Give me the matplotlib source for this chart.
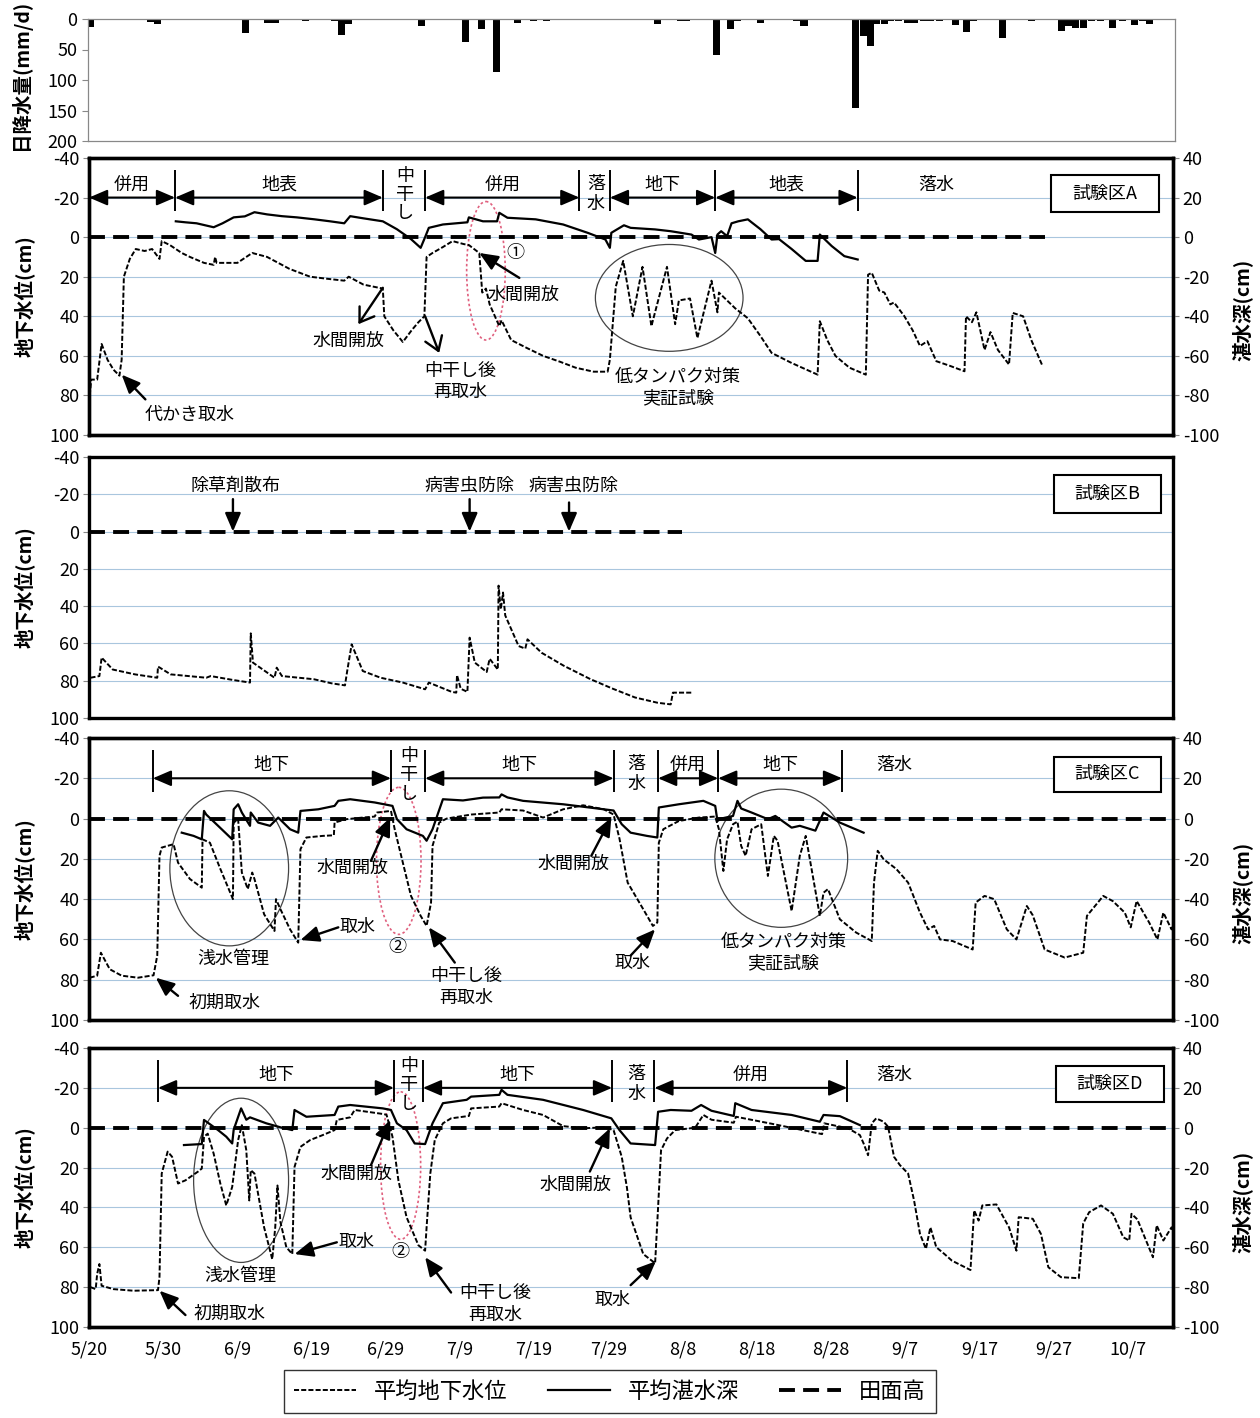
import matplotlib
matplotlib.use("Agg")
import matplotlib.pyplot as plt
from matplotlib.lines import Line2D
from matplotlib.patches import Ellipse, Rectangle

plt.rcParams["font.family"] = ["Noto Sans CJK JP", "DejaVu Sans"]
plt.rcParams["axes.unicode_minus"] = False

# ---- data (day counted from 5/20) ----
tick_days = list(range(0, 141, 10))
tick_labels = ["5/20", "5/30", "6/9", "6/19", "6/29", "7/9", "7/19", "7/29",
               "8/8", "8/18", "8/28", "9/7", "9/17", "9/27", "10/7"]

rain_day = [0.4, 3.5, 4.5, 8.4, 9.4, 14.5, 15.4, 20.2, 21.2, 24.2, 25.2, 29.3,
            33.2, 34.2, 35.1, 45, 46, 47, 49, 50, 50.9, 53, 55, 57.9, 60.1, 61.8,
            72.7, 73.8, 76.7, 79.8, 80.6, 84.7, 86.6, 87.5, 90.6, 95.5, 96.5,
            103.5, 104.5, 105.4, 106.3, 107.3, 108.2, 109.2, 110.4, 111.4, 112.6,
            113.6, 114.7, 116.9, 118.4, 119.3, 123.2, 127.2, 131.2, 132.2, 133.1,
            134.2, 135.3, 136.4, 138.1, 139.4, 141, 142.1, 143.1, 144.5, 145.6]
rain_mm = [13, 2, 2, 5, 8, 2, 2, 2, 23, 6, 6, 4,
           3, 27, 8, 12, 2, 2, 2, 2, 37, 16, 87, 7, 3, 3,
           2, 2, 8, 3, 3, 59, 17, 4, 7, 3, 12,
           146, 28, 44, 8, 8, 3, 3, 7, 7, 3,
           3, 3, 10, 22, 4, 31, 3, 20, 11, 14,
           14, 3, 3, 14, 3, 10, 4, 8, 2, 2]

# groundwater level (cm below surface), ponding depth (cm above surface)
a_gw = [(0.1, 80), (0.3, 72), (1.1, 72), (1.7, 54), (2.5, 62), (3.3, 67), (4.1, 70),
        (4.4, 62), (4.7, 20), (5.5, 11), (6.3, 6), (7.5, 7), (8.5, 6), (9.5, 11),
        (9.8, 2), (10.9, 4), (12.5, 8), (13.6, 10), (15.5, 13), (16.8, 14), (17, 10),
        (17.2, 13), (20, 13), (22, 8), (24, 10), (27, 16), (29.8, 20), (32, 21),
        (34.4, 22), (35, 20), (37, 24), (39.6, 26), (39.8, 40), (41, 47), (42.3, 53),
        (43.5, 47), (44.4, 43), (45.2, 40), (45.5, 10), (46.3, 8), (47.7, 5), (49, 2),
        (50.5, 3.5), (51.2, 4), (52.6, 8), (53, 28), (53.5, 26), (54, 34), (55.3, 45),
        (55.6, 42), (56.9, 52), (59, 56), (61.2, 60), (63.5, 63), (65.6, 66), (68, 68),
        (69.9, 68), (70.2, 62), (71, 25), (72, 12), (73.3, 40), (74.6, 15), (75.8, 45),
        (77.9, 15), (79, 44), (79.5, 32), (81, 31), (82, 51), (83.9, 22), (84.7, 38),
        (84.9, 28), (86, 32), (87.1, 36), (88.8, 41), (90.5, 50), (92, 58.5),
        (94.7, 63.6), (98.2, 69.5), (98.5, 42.5), (99.5, 52), (100.6, 60), (102.5, 66),
        (104.7, 69.5), (105, 19), (105.5, 18), (106.5, 27), (107.2, 28), (108, 34),
        (108.5, 33), (109.9, 40), (111, 47), (112, 55), (113, 52.6), (114.2, 62.7),
        (116, 65), (118, 67.8), (118.2, 40), (119, 43), (119.6, 38), (120.7, 57),
        (121.5, 48), (122.5, 57), (124, 64.4), (124.5, 38.3), (125.9, 40), (127, 52),
        (128.5, 65)]
a_pond = [(11.7, 8), (13, 7.5), (14.5, 7), (16.8, 5), (18, 7), (19.5, 10), (21, 10.5),
          (22.3, 12.6), (24, 11.5), (26, 10.6), (28, 10), (30.4, 9), (32.5, 8),
          (34.4, 7), (35.2, 10.6), (37, 9.5), (39.6, 8), (41.5, 4), (43.4, -1),
          (44.7, -5.4), (45.3, 0), (45.8, 4.7), (47.7, 6.4), (51, 7.5), (51.2, 10),
          (53.1, 8), (55, 8), (55.3, 12.3), (56.4, 9.8), (60.2, 9), (63.9, 6.4),
          (67.2, 2.2), (69.6, -1.2), (70.2, -5.4), (70.4, 2.2), (72.1, 6), (73, 4.7),
          (76.3, 3.9), (78.4, 3), (81.2, 1.3), (82.2, -1.2), (83.9, 0), (84.4, -8),
          (84.7, 1.3), (85.2, 3), (86, 0.5), (86.6, 7), (87.5, 8), (88.8, 9),
          (89.3, 7.5), (90.5, 4), (92, -1.2), (93, -1), (94.7, -6), (96.6, -12),
          (98.2, -12), (98.5, 1.3), (100.1, -4.5), (101.8, -9.6), (103.6, -11.3)]

b_gw = [(0.2, 78.4), (1.4, 77.5), (1.7, 67.6), (3.2, 74), (6.2, 76.6), (9.2, 78.4),
        (9.3, 72.4), (11, 76.6), (15.8, 78.4), (16.4, 77.5), (19.4, 79.6), (21.7, 81),
        (21.8, 54.6), (22.1, 70.3), (25, 78.4), (25.3, 73), (26, 77.5), (30.3, 79.2),
        (32.7, 81.4), (34.5, 82.5), (34.8, 74.8), (35.4, 60.5), (36.9, 74.8),
        (39.3, 78.4), (42.3, 81), (45.3, 84.6), (45.8, 81), (48.9, 86), (49.5, 86.4),
        (49.6, 77), (50.1, 84.3), (51, 86), (51.3, 56.9), (52, 70.3), (53.6, 75.3),
        (54, 68.2), (55.1, 74), (55.2, 29), (55.5, 41.7), (55.8, 32.7), (56.1, 45),
        (57.9, 61.4), (58.8, 62.8), (59.1, 57.8), (61, 65), (64, 72), (67.6, 79.2),
        (70.6, 84.3), (73.6, 89), (76.6, 91.8), (78.4, 92.7), (78.7, 86.4), (81.4, 86.4)]

c_gw = [(0.1, 79), (1.1, 78), (1.6, 66.6), (2.8, 74.8), (4.4, 78), (6.6, 79), (8.7, 77.8),
        (9.2, 68), (9.5, 18.5), (9.8, 14.4), (11.4, 12.7), (12, 21.9), (13.6, 30),
        (15.2, 34.3), (15.3, 10.3), (16.3, 12), (17.7, 25), (19.4, 40), (19.5, 2),
        (20.1, 0.3), (20.6, 26.8), (21.4, 35), (22, 26.8), (22.3, 30), (23.6, 47.5),
        (25, 55.8), (25.2, 40), (25.8, 45), (27.1, 55), (28.2, 61.6), (28.5, 15.2),
        (29.3, 9.4), (31.5, 8.6), (33, 8.3), (33.1, 2), (34.7, 0.3), (36.9, -0.5),
        (38.5, -1), (38.8, -3), (40.7, -3.8), (41.2, 5.3), (42.3, 21.9), (43.4, 38.4),
        (44.7, 48.3), (45.5, 53.3), (46.1, 41.7), (46.3, 13.6), (47.2, 2), (48.2, 0),
        (51.5, -2), (55.3, -3), (55.6, -4.6), (58.5, -4), (61.2, -0.5), (63.9, -4.6),
        (66.6, -6.6), (69.4, -4.6), (70.7, -2), (71.5, 10), (72.6, 31.8), (74.7, 45),
        (76, 53.3), (76.6, 51.6), (76.8, 12), (77.4, 5.3), (79.5, 1.2), (82.2, -0.5),
        (84.4, -1), (84.9, 5.3), (85.5, 26), (86, 10.3), (86.8, 2.8), (87.4, 1.5),
        (87.9, 13.6), (88.5, 18.5), (89.3, 5.3), (90.6, 2.8), (91.5, 28.5), (92.3, 8.6),
        (92.8, 11), (94.7, 45.9), (95.8, 18.5), (96.6, 8.6), (98.5, 48.3), (99, 36.8),
        (99.6, 35), (101.2, 50), (103.4, 56.6), (105.5, 60.8), (105.8, 31.8),
        (106.3, 16), (107.1, 20.2), (108.8, 25), (110.4, 31.8), (112, 46.7),
        (113.1, 55), (113.9, 53.3), (114.7, 60), (116.4, 60.8), (119.1, 65),
        (119.5, 41.7), (120.7, 38.4), (122, 40), (123.7, 55), (125, 60), (126.4, 43.4),
        (127.2, 48), (128.8, 65), (131.5, 69), (134, 66.6), (134.5, 48.3),
        (136.7, 38.4), (138, 41), (139.6, 46.7), (140.4, 54), (141.2, 40.9),
        (142.9, 51.7), (144, 60), (144.8, 46.7), (145.9, 55), (146.4, 49)]
c_pond = [(12.5, -7), (14.1, -8.6), (15.2, -10.3), (15.5, 3.8), (15.8, 2), (17.4, -3.6),
          (19.3, -10.3), (19.5, 4.6), (20.1, 7.1), (20.6, 3), (21.7, -3.6), (21.8, 3),
          (22.8, -2), (24.4, -3.6), (25.5, 0.5), (27.1, -5.3), (28.2, -7), (28.5, 3.8),
          (30.9, 4.6), (33.1, 6.3), (33.6, 8.8), (35.2, 9.6), (38.5, 8), (40.9, 6.3),
          (41.5, -0.3), (42.8, -5.3), (45, -8.6), (45.5, -11), (46.3, -5.3),
          (47.7, 9.6), (50.4, 9), (53.1, 10.4), (55.3, 10.5), (55.6, 12), (56.4, 10.5),
          (58.5, 8.8), (63.9, 7.1), (69.4, 4.6), (70.7, 4), (71.8, -2.8), (73, -7),
          (75.2, -8.6), (76.6, -9.4), (76.8, 5.5), (79.5, 7.1), (82.8, 8.8),
          (84.4, 6.3), (84.7, -1.2), (85.2, 0), (86.8, 1.3), (87.4, 8.8), (87.9, 5),
          (89.3, 3), (91.5, -0.3), (92.5, 1.3), (94.7, -4.5), (95.8, -3.6),
          (97.9, -6), (99, 3), (101.2, -2), (104.4, -7)]

d_gw = [(0.2, 80), (0.9, 81), (1.1, 73.4), (1.4, 68.4), (1.7, 79.3), (3.3, 81), (6, 81.8),
        (9.3, 81.5), (9.5, 75), (9.8, 23), (10.6, 12), (11.2, 14.6), (12, 28),
        (13, 26.4), (14.7, 22), (15.2, 20.5), (15.5, 4.5), (16, 3), (16.8, 13),
        (17.7, 28), (18.5, 39), (19.3, 29.7), (20.1, 6.2), (20.6, -1.3), (21.2, 11.3),
        (21.6, 36.5), (21.8, 21.3), (22.3, 23), (23.6, 50), (24.7, 66), (25.1, 50),
        (25.4, 29), (25.8, 47.4), (26.6, 60), (27.4, 63.4), (27.7, 19.7), (28.5, 9.6),
        (29.8, 6.2), (31.5, 3.7), (33.1, 1.2), (33.4, -3.9), (35.2, -5.2),
        (35.8, -8.9), (39.6, -6.9), (40.1, -6.5), (40.9, 4.5), (41.7, 26.4),
        (42.8, 44.9), (44.4, 59), (45.3, 61.7), (45.5, 50), (46, 23), (46.6, 6.2),
        (47.7, -2.2), (48.8, -4.7), (51.2, -5.9), (51.5, -9.7), (55.3, -10.6),
        (55.6, -12.3), (58.5, -8.9), (61.2, -6.4), (63.9, -0.8), (66.6, 0.3),
        (69.4, -0.2), (70.7, 1.2), (71.8, 14.6), (72.5, 30), (73, 45), (74.7, 63.4),
        (76.3, 68), (76.7, 40), (77.1, 11.3), (77.9, 5.4), (79, 1.2), (81.7, 0),
        (82.8, -6.4), (83.9, -4), (86.9, -2.5), (87.2, -5.5), (92, -2), (98.8, 3.2),
        (99.1, -2.2), (102.3, 0.3), (103.9, 3.7), (104.4, 7.9), (105, 13.8),
        (105.5, -2.2), (106.1, -4.7), (107.1, -3), (107.7, -0.5), (108.5, 14.6),
        (109.3, 18.8), (110.4, 23), (111.2, 36.5), (112, 53.3), (112.8, 60.8),
        (113.4, 50), (114.2, 60), (115.3, 63.4), (116.3, 66.7), (118.8, 71.4),
        (119.3, 41.5), (119.9, 46.6), (120.4, 39), (122.3, 38.5), (124, 50),
        (125, 61.7), (125.3, 44.9), (127.2, 45.7), (128.3, 53.3), (129.3, 70),
        (131, 75), (133.4, 75.5), (134, 48), (134.8, 42.4), (136.4, 39), (138, 43.2),
        (139.4, 55), (140.2, 56.6), (140.5, 43.2), (141.3, 46), (142.4, 56),
        (143.4, 65), (143.9, 49), (144.8, 56.6), (145.9, 50), (146.9, 60)]
d_pond = [(12.8, -8.7), (15.2, -8.2), (15.5, 3.9), (17.4, -1.2), (18.5, -4.5),
          (19.3, -7.9), (19.5, -1), (20.5, 9.7), (21.2, 4), (21.7, 5.2), (23.9, 2.2),
          (26, 0), (27.4, -1.2), (27.7, 8.9), (29.3, 5.5), (33.1, 6.4), (33.6, 10.6),
          (35.2, 11.4), (39.6, 9.7), (40.7, 8.9), (41.5, 2.2), (42.8, -1.2),
          (43.9, -7.9), (45.3, -8.2), (46.3, 2.2), (47.7, 12.3), (50.9, 14),
          (51.5, 15.6), (55.3, 16.5), (55.6, 19), (56.4, 16.5), (61.2, 14),
          (66.6, 8.9), (70.4, 4.7), (71.5, -1.2), (73, -7.9), (76.3, -8.7), (76.7, 8),
          (78.4, 8.9), (81.2, 8.5), (82.5, 11.4), (83.9, 8.5), (86.9, 5.9),
          (87.1, 12.3), (89.3, 8.9), (94.7, 6.4), (98.5, 3), (99, 6.4), (101.2, 5.8),
          (103.9, 1.3)]

# field surface line extent (days)
a_field_end, b_field_end, c_field_end, d_field_end = 128.8, 79.9, 146.1, 146.1

# water management periods: (start, end, label)
a_bounds = [11.6, 39.6, 45.3, 66.1, 70.2, 84.4, 103.6]
a_periods = [(0, 11.6, "併用"), (11.6, 39.6, "地表"), (45.3, 66.1, "併用"),
             (70.2, 84.4, "地下"), (84.4, 103.6, "地表")]
c_bounds = [8.6, 40.7, 45.3, 70.7, 76.7, 84.8, 101.5]
c_periods = [(8.6, 40.7, "地下"), (45.3, 70.7, "地下"), (76.7, 84.8, "併用"),
             (84.8, 101.5, "地下")]
d_bounds = [9.3, 41.1, 45.0, 70.5, 76.2, 102.2]
d_periods = [(9.3, 41.1, "地下"), (45.0, 70.5, "地下"), (76.2, 102.2, "併用")]

GRID = "#a9c6de"
GW = dict(color="k", lw=1.4, linestyle=(0, (2.6, 1.1)))
POND = dict(color="k", lw=1.6)
FIELD = dict(color="k", lw=2.8, linestyle=(0, (4.1, 2.1)))
XMAX = 146.1

fig = plt.figure(figsize=(12.6, 14.18), dpi=100)


def fy(px):
    return 1 - px / 1418


L, W = 89 / 1260, (1173 - 89) / 1260
ax_rain = fig.add_axes([88 / 1260, fy(141), (1175 - 88) / 1260, 122 / 1418])
ax_a = fig.add_axes([L, fy(435), W, 277 / 1418])
ax_b = fig.add_axes([L, fy(718), W, 261 / 1418])
ax_c = fig.add_axes([L, fy(1020), W, 282 / 1418])
ax_d = fig.add_axes([L, fy(1327), W, 279 / 1418])

# ---- rain ----
ax_rain.bar(rain_day, rain_mm, width=0.95, color="k")
ax_rain.set_xlim(0, 146.5)
ax_rain.set_ylim(200, 0)
ax_rain.set_yticks([0, 50, 100, 150, 200])
ax_rain.tick_params(axis="y", labelsize=13, length=4, color="#888")
ax_rain.tick_params(axis="x", bottom=False, labelbottom=False)
for s in ax_rain.spines.values():
    s.set_color("#888")
    s.set_linewidth(0.9)
ax_rain.set_ylabel("日降水量(mm/d)", fontsize=14, fontweight="bold")
ax_rain.yaxis.set_label_coords(-0.052, 0.54)


def xy(pairs):
    return [p[0] for p in pairs], [p[1] for p in pairs]


def setup(ax, right=True):
    ax.set_xlim(0, XMAX)
    ax.set_ylim(100, -40)
    ax.set_yticks(range(-40, 101, 20))
    for v in range(-20, 100, 20):
        ax.axhline(v, color=GRID, lw=0.8, zorder=0)
    for s in ax.spines.values():
        s.set_linewidth(2.4)
    ax.tick_params(axis="y", labelsize=13, length=4, color="#888", pad=3)
    ax.tick_params(axis="x", bottom=False, labelbottom=False)
    ax.set_ylabel("地下水位(cm)", fontsize=14, fontweight="bold")
    ax.yaxis.set_label_coords(-0.05, 0.5)
    if not right:
        return None
    axr = ax.twinx()
    axr.set_xlim(0, XMAX)
    axr.set_ylim(-100, 40)
    axr.set_yticks(range(-100, 41, 20))
    for s in axr.spines.values():
        s.set_linewidth(2.4)
    axr.tick_params(axis="y", labelsize=13, length=4, color="#888", pad=3)
    axr.set_ylabel("湛水深(cm)", fontsize=14, fontweight="bold")
    axr.yaxis.set_label_coords(1.054, 0.45)
    return axr


def periods(ax, bounds, spans, vtexts, free):
    ax.vlines(bounds, -34, -13, color="k", lw=1.4)
    for x0, x1, lab in spans:
        ax.annotate("", xy=(x1, -20), xytext=(x0, -20),
                    arrowprops=dict(arrowstyle="<|-|>,head_length=0.7,head_width=0.3",
                                    color="k", lw=1.5, mutation_scale=16,
                                    shrinkA=0, shrinkB=0))
        ax.text((x0 + x1) / 2, -26.5, lab, fontsize=13, ha="center", va="center")
    for x, chars in vtexts:
        ys = [-31, -21.5, -12] if len(chars) == 3 else [-27, -17]
        for c, y in zip(chars, ys):
            ax.text(x, y, c, fontsize=13, ha="center", va="center")
    for x, lab in free:
        ax.text(x, -26.5, lab, fontsize=13, ha="center", va="center")


def arrow(ax, head, tail, filled=True):
    style = ("-|>,head_length=0.7,head_width=0.3" if filled
             else "->,head_length=0.6,head_width=0.4")
    ax.annotate("", xy=head, xytext=tail,
                arrowprops=dict(arrowstyle=style, color="k", lw=1.7,
                                mutation_scale=16, shrinkA=0, shrinkB=0))


def label(ax, x, y, s, size=13):
    ax.text(x, y, s, fontsize=size, ha="center", va="center", linespacing=1.25)


def plot_box(ax, rect, s):
    ax.add_patch(Rectangle(rect[:2], rect[2], rect[3], transform=ax.transAxes,
                           facecolor="white", edgecolor="k", lw=1.5, zorder=5))
    ax.text(rect[0] + rect[2] / 2, rect[1] + rect[3] / 2, s, transform=ax.transAxes,
            fontsize=13, ha="center", va="center", zorder=6)


def red_ring(ax, c, w, h):
    ax.add_patch(Ellipse(c, w, h, fill=False, edgecolor="#e0607e", lw=1.2,
                         linestyle=(0, (1.5, 1.5))))


def gray_ring(ax, c, w, h):
    ax.add_patch(Ellipse(c, w, h, fill=False, edgecolor="#444", lw=0.9))


# ---- panel A ----
ar = setup(ax_a)
ax_a.plot([0, a_field_end], [0, 0], **FIELD)
ax_a.plot(*xy(a_gw), **GW)
ar.plot(*xy(a_pond), **POND)
periods(ax_a, a_bounds, a_periods, [(42.6, "中干し"), (68.3, "落水")], [(114.2, "落水")])
arrow(ax_a, (4.4, 69.5), (7.6, 82))
label(ax_a, 13.6, 90, "代かき取水")
arrow(ax_a, (36.3, 44), (39.6, 25.6), filled=False)
label(ax_a, 35, 52.6, "水間開放")
arrow(ax_a, (47.2, 58.5), (45.3, 40), filled=False)
label(ax_a, 50, 73, "中干し後\n再取水")
arrow(ax_a, (52.6, 8), (58, 20.6))
label(ax_a, 58.6, 29, "水間開放")
label(ax_a, 57.4, 8, "①")
red_ring(ax_a, (53.5, 17), 5.2, 70)
gray_ring(ax_a, (78.2, 30.7), 19.9, 54)
label(ax_a, 79.4, 76, "低タンパク対策\n実証試験")
plot_box(ax_a, (0.887, 0.805, 0.0998, 0.134), "試験区A")

# ---- panel B ----
setup(ax_b, right=False)
ax_b.plot([0, b_field_end], [0, 0], **FIELD)
ax_b.plot(*xy(b_gw), **GW)
for x_txt, x_arr, y_top in [(19.7, 19.4, -17.4), (51.3, 51.3, -17.4), (65.3, 64.7, -15.6)]:
    arrow(ax_b, (x_arr, 0), (x_arr, y_top))
label(ax_b, 19.7, -24.5, "除草剤散布")
label(ax_b, 51.3, -24.5, "病害虫防除")
label(ax_b, 65.3, -24.5, "病害虫防除")
plot_box(ax_b, (0.890, 0.785, 0.099, 0.146), "試験区B")

# ---- panel C ----
cr = setup(ax_c)
ax_c.plot([0, c_field_end], [0, 0], **FIELD)
ax_c.plot(*xy(c_gw), **GW)
cr.plot(*xy(c_pond), **POND)
periods(ax_c, c_bounds, c_periods, [(43.1, "中干し"), (73.8, "落水")], [(108.5, "落水")])
arrow(ax_c, (9, 79), (12, 88))
label(ax_c, 18.2, 91.4, "初期取水")
gray_ring(ax_c, (18.9, 24.7), 16, 77)
label(ax_c, 19.4, 69.9, "浅水管理")
arrow(ax_c, (28.5, 60.3), (33.6, 54))
label(ax_c, 36.2, 54, "取水")
arrow(ax_c, (40.6, -0.5), (38, 21))
label(ax_c, 35.5, 24.3, "水間開放")
red_ring(ax_c, (41.75, 21), 6, 73)
label(ax_c, 41.6, 64, "②")
arrow(ax_c, (45.8, 54), (49.3, 71.5))
label(ax_c, 50.8, 83.5, "中干し後\n再取水")
arrow(ax_c, (70.4, -0.5), (67.7, 18.5))
label(ax_c, 65.3, 22.7, "水間開放")
arrow(ax_c, (76.3, 55), (73, 68))
label(ax_c, 73.2, 71.5, "取水")
gray_ring(ax_c, (93.3, 19.7), 17.9, 68.6)
label(ax_c, 93.6, 66.5, "低タンパク対策\n実証試験")
plot_box(ax_c, (0.890, 0.809, 0.099, 0.124), "試験区C")

# ---- panel D ----
dr = setup(ax_d)
ax_d.plot([0, d_field_end], [0, 0], **FIELD)
ax_d.plot(*xy(d_gw), **GW)
dr.plot(*xy(d_pond), **POND)
periods(ax_d, d_bounds, d_periods, [(43.1, "中干し"), (73.8, "落水")], [(108.5, "落水")])
arrow(ax_d, (9.5, 81.8), (13, 94))
label(ax_d, 19, 93.6, "初期取水")
gray_ring(ax_d, (20.5, 26.4), 12.8, 82.4)
label(ax_d, 20.4, 74.3, "浅水管理")
arrow(ax_d, (27.7, 63.4), (33.4, 57.5))
label(ax_d, 36, 57.5, "取水")
arrow(ax_d, (40.6, -3.9), (38, 18.8))
label(ax_d, 36, 23, "水間開放")
red_ring(ax_d, (42, 19), 5.4, 74)
label(ax_d, 42, 62.5, "②")
arrow(ax_d, (45.3, 65), (48.8, 82.7))
label(ax_d, 54.7, 88.5, "中干し後\n再取水")
arrow(ax_d, (70.2, 0.3), (67.5, 22))
label(ax_d, 65.6, 28.9, "水間開放")
arrow(ax_d, (76.4, 67), (73, 79))
label(ax_d, 70.5, 86.3, "取水")
plot_box(ax_d, (0.892, 0.806, 0.0998, 0.129), "試験区D")

ax_d.tick_params(axis="x", bottom=True, labelbottom=True, length=0, pad=10, labelsize=13)
ax_d.set_xticks(tick_days)
ax_d.set_xticklabels(tick_labels)

handles = [Line2D([], [], **GW), Line2D([], [], **POND), Line2D([], [], **FIELD)]
leg = fig.legend(handles, ["平均地下水位", "平均湛水深", "田面高"], loc="lower center",
                 bbox_to_anchor=(0.484, -0.004), ncol=3, frameon=True, fancybox=False,
                 edgecolor="k", fontsize=16, handlelength=2.8, columnspacing=1.8,
                 borderpad=0.45)
leg.get_frame().set_linewidth(1.0)

fig.savefig("out.png", dpi=100)
